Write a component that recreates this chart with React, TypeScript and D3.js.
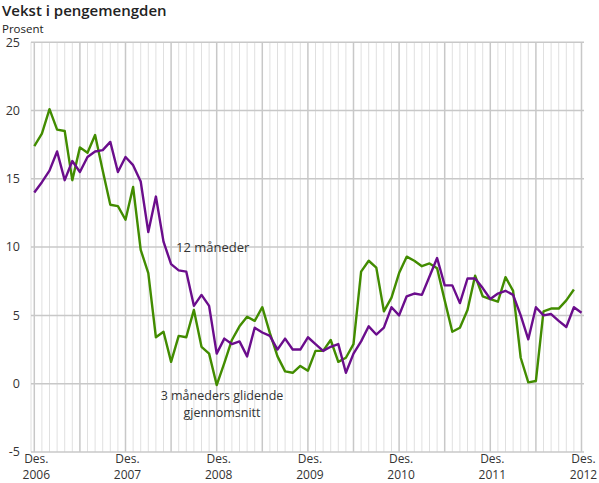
import React from 'react';
import * as d3 from 'd3';

// monthly values, Des. 2006 -> Des. 2012
const threeMonth: number[] = [
  17.4, 18.3, 20.1, 18.6, 18.5, 14.9, 17.3, 16.9, 18.2, 15.6,
  13.1, 13.0, 12.0, 14.4, 9.8, 8.1, 3.4, 3.8, 1.6, 3.5,
  3.4, 5.4, 2.7, 2.2, -0.1, 1.5, 3.2, 4.2, 4.9, 4.6,
  5.6, 3.7, 2.0, 0.9, 0.8, 1.3, 0.95, 2.4, 2.4, 3.2,
  1.6, 1.9, 2.9, 8.2, 9.0, 8.5, 5.3, 6.3, 8.1, 9.3,
  9.0, 8.6, 8.8, 8.45, 6.1, 3.8, 4.1, 5.4, 7.9, 6.4,
  6.2, 6.0, 7.8, 6.8, 1.9, 0.1, 0.2, 5.3, 5.5, 5.5,
  6.1, 6.9,
];

const twelveMonth: number[] = [
  14.0, 14.75, 15.6, 17.0, 14.9, 16.3, 15.5, 16.6, 17.0, 17.1,
  17.7, 15.5, 16.6, 16.0, 14.8, 11.1, 13.7, 10.4, 8.75, 8.3,
  8.2, 5.7, 6.5, 5.7, 2.2, 3.3, 2.9, 3.1, 2.0, 4.1,
  3.75, 3.5, 2.5, 3.3, 2.5, 2.5, 3.4, 2.9, 2.4, 2.7,
  2.9, 0.8, 2.2, 3.1, 4.2, 3.6, 4.1, 5.6, 5.0, 6.4,
  6.6, 6.5, 7.85, 9.2, 7.2, 7.2, 5.9, 7.7, 7.7, 7.0,
  6.2, 6.6, 6.8, 6.5, 5.0, 3.25, 5.6, 5.0, 5.1, 4.6,
  4.15, 5.6, 5.2,
];

const years: string[] = ['2006', '2007', '2008', '2009', '2010', '2011', '2012'];
const yTicks: number[] = [-5, 0, 5, 10, 15, 20, 25];

const W = 599;
const H = 483;
const FONT = '"Open Sans", sans-serif';

const App: React.FC = () => {
  const x = d3.scaleLinear().domain([0, 72]).range([34.3, 581.5]);
  const y = d3.scaleLinear().domain([-5, 25]).range([452, 42.2]);

  const line = d3.line<number>()
    .x((_, i) => x(i))
    .y((d) => y(d));

  const months = d3.range(0, 73);

  return (
    <svg width={W} height={H} style={{ position: 'absolute', left: 0, top: 0 }} fontFamily={FONT}>
      <rect width={W} height={H} fill="#fff" />

      {/* monthly grid */}
      <line x1={31} x2={31} y1={y(25)} y2={y(-5)} stroke="#e0e0e0" strokeWidth={1} />
      {months.map((m) => (
        <line
          key={'v' + m}
          x1={x(m)}
          x2={x(m)}
          y1={y(25)}
          y2={y(-5)}
          stroke={m % 6 === 0 ? '#c8c8c8' : '#e0e0e0'}
          strokeWidth={m % 6 === 0 ? 1.5 : 1}
        />
      ))}
      {yTicks.map((t) => (
        <line key={'h' + t} x1={31} x2={584} y1={y(t)} y2={y(t)} stroke="#c8c8c8" strokeWidth={1.5} />
      ))}

      {/* y labels */}
      {yTicks.map((t) => (
        <text key={'yl' + t} x={20} y={y(t)} dy="0.35em" textAnchor="end" fontSize={12.5} fill="#333">
          {t}
        </text>
      ))}

      {/* x labels */}
      {years.map((yr, k) => (
        <g key={yr}>
          <text x={x(k * 12) + 2} y={462.5} textAnchor="middle" fontSize={12} fill="#333">Des.</text>
          <text x={x(k * 12) + 2} y={479} textAnchor="middle" fontSize={12} fill="#333">{yr}</text>
        </g>
      ))}

      {/* series */}
      <path d={line(threeMonth) ?? ''} fill="none" stroke="#428c00" strokeWidth={2.4} strokeLinejoin="round" />
      <path d={line(twelveMonth) ?? ''} fill="none" stroke="#6b0d8c" strokeWidth={2.4} strokeLinejoin="round" />

      {/* annotations */}
      <text x={176} y={252} fontSize={13} fill="#333">12 måneder</text>
      <text x={222} y={399.5} textAnchor="middle" fontSize={12.5} fill="#333">3 måneders glidende</text>
      <text x={222} y={416.5} textAnchor="middle" fontSize={12.5} fill="#333">gjennomsnitt</text>

      {/* title */}
      <text x={2} y={16.3} fontSize={15} fontWeight={600} fill="#222">Vekst i pengemengden</text>
      <text x={2} y={32.5} fontSize={11.5} fill="#222">Prosent</text>
    </svg>
  );
};

export default App;
